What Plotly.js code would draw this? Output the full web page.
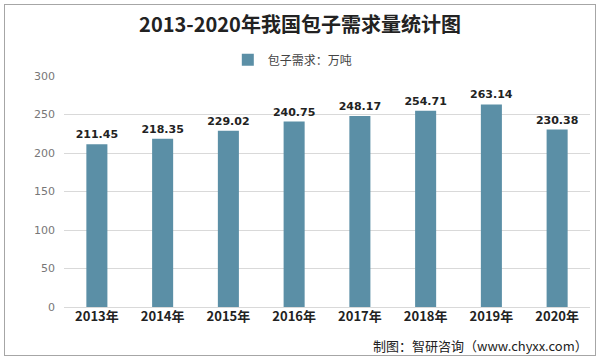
<!DOCTYPE html>
<html><head><meta charset="utf-8">
<script src="https://cdn.plot.ly/plotly-3.0.1.min.js"></script>
<style>
html,body{margin:0;padding:0;background:#fff;}
#wrap{position:relative;width:600px;height:360px;}
#frame{position:absolute;left:4px;top:4px;width:590px;height:350px;border:1px solid #a6a6a6;pointer-events:none;}
#chart{position:absolute;left:0;top:0;width:600px;height:360px;}
</style></head>
<body><div id="wrap"><div id="chart"></div><div id="frame"></div></div>
<script>
const years = ['2013年','2014年','2015年','2016年','2017年','2018年','2019年','2020年'];
const demand = [211.45, 218.35, 229.02, 240.75, 248.17, 254.71, 263.14, 230.38];
const seriesName = '包子需求：万吨';
const yTicks = [0, 50, 100, 150, 200, 250, 300];

const trace = {
  type: 'bar', x: years, y: demand, name: seriesName,
  marker: {color: '#5b8fa6'},
  text: demand.map(v => '<b>' + v.toFixed(2) + '</b>'), textposition: 'outside',
  constraintext: 'none',
  textfont: {family: 'DejaVu Sans', size: 11, color: '#222'},
  cliponaxis: false, showlegend: true
};
const layout = {
  width: 600, height: 360,
  margin: {l: 64, r: 10, t: 76, b: 53},
  paper_bgcolor: '#fff', plot_bgcolor: '#fff',
  title: {text: '<b>2013-2020年我国包子需求量统计图</b>', x: 0.5, xanchor: 'center', y: 0.93, yanchor: 'middle',
          font: {family: 'Noto Sans CJK SC', size: 20, color: '#222'}},
  showlegend: true,
  legend: {orientation: 'h', x: 0.435, xanchor: 'center', y: 1.07, yanchor: 'middle',
           font: {family: 'Noto Sans CJK SC', size: 12, color: '#444'}, itemwidth: 30},
  bargap: 0.68,
  xaxis: {type: 'category', tickfont: {family: 'Noto Sans CJK SC', size: 13, color: '#222', weight: 'bold'},
          showline: false, ticks: '', showgrid: false},
  yaxis: {range: [0, 300], tickvals: yTicks, showgrid: true, gridcolor: '#d9d9d9', gridwidth: 1,
          zeroline: true, zerolinecolor: '#d9d9d9', zerolinewidth: 1,
          tickfont: {family: 'DejaVu Sans', size: 11, color: '#777'}, ticks: '', ticklabelstandoff: 8},
  annotations: [{text: '制图：智研咨询（www.chyxx.com）', xref: 'paper', yref: 'paper', x: 1.0, y: -0.165,
                 xanchor: 'right', yanchor: 'middle', showarrow: false,
                 font: {family: 'Noto Sans CJK SC', size: 13, color: '#222'}}]
};
Plotly.newPlot('chart', [trace], layout, {displayModeBar: false});
</script></body></html>
